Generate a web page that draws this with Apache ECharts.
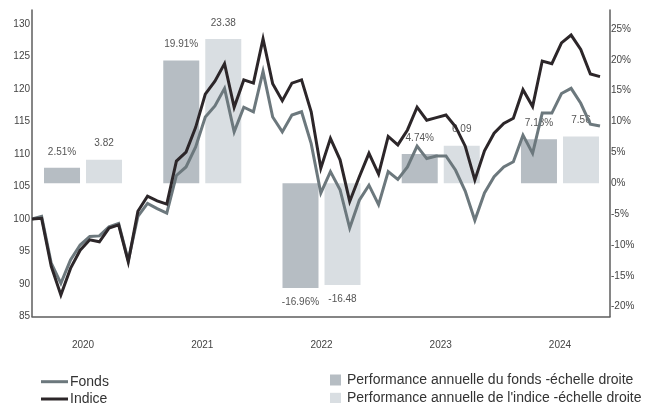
<!DOCTYPE html>
<html>
<head>
<meta charset="utf-8">
<script src="https://cdn.jsdelivr.net/npm/echarts@6/dist/echarts.min.js"></script>
<style>
html,body{margin:0;padding:0;background:#fff;}
#c{width:651px;height:403px;}
</style>
</head>
<body>
<div id="c"></div>
<script>
// ---- data ----
const years = ['2020', '2021', '2022', '2023', '2024'];
const perfFonds = [2.51, 19.91, -16.96, 4.74, 7.13];
const perfIndice = [3.82, 23.38, -16.48, 6.09, 7.56];
const fonds = [100.0,100.4,93.2,90.1,93.7,96.0,97.3,97.4,98.8,99.3,
  93.6,100.4,102.4,101.6,100.9,106.7,108.0,111.1,115.7,117.4,
  120.1,113.4,117.2,116.5,122.7,115.7,113.4,116.0,116.5,111.6,
  104.0,107.3,104.5,98.6,102.9,105.2,102.2,107.3,106.1,108.0,
  111.2,109.3,109.7,109.7,107.5,104.3,99.8,104.0,106.5,108.0,
  108.8,112.9,110.1,116.3,116.3,119.3,120.1,117.8,114.6,114.3];
const indice = [100.0,100.1,92.7,88.3,92.4,95.2,96.8,96.5,98.6,99.1,
  93.4,101.2,103.5,102.8,102.3,108.9,110.3,114.1,119.2,121.2,
  123.9,117.2,121.4,120.9,127.7,120.8,118.2,120.9,121.4,116.5,
  107.8,112.4,109.1,102.7,106.5,110.1,106.9,112.7,111.4,113.7,
  117.2,115.2,115.6,116.0,114.2,111.2,106.0,110.5,113.2,114.7,
  115.5,119.9,117.3,124.3,123.9,127.1,128.3,126.1,122.3,121.9];
const leftTicks = {min: 85, step: 5};
const rightTicks = {min: -20, max: 25, step: 5};
const names = {
  fonds: 'Fonds',
  indice: 'Indice',
  perfFonds: 'Performance annuelle du fonds -échelle droite',
  perfIndice: "Performance annuelle de l'indice -échelle droite"
};

// ---- styles ----
const FONT = "'Liberation Sans', Arial, sans-serif";
const C_FONDS = '#6c787d';
const C_INDICE = '#2c2629';
const C_BAR_F = '#b6bdc3';
const C_BAR_I = '#d9dee2';
const AXIS_C = '#5e5e5e';

function barItems(arr, suffix) {
  return arr.map(v => ({
    value: v,
    label: {
      position: v >= 0 ? 'top' : 'bottom',
      distance: v >= 0 ? 11 : 9,
      formatter: () => v.toFixed(2) + suffix
    }
  }));
}

const chart = echarts.init(document.getElementById('c'), null, {renderer: 'canvas'});
chart.setOption({
  animation: false,
  textStyle: {fontFamily: FONT},
  grid: [
    {left: 32, right: 41, top: 10, height: 306.5, containLabel: false},
    {left: 23.4, right: 31.4, top: 29, height: 277.7, containLabel: false}
  ],
  legend: [
    {
      data: [names.fonds, names.indice],
      orient: 'vertical', left: 41, top: 374.2, height: 60, padding: 0,
      icon: 'rect', itemWidth: 27, itemHeight: 3, itemGap: 2.3,
      textStyle: {fontSize: 14, color: '#333', lineHeight: 15, fontFamily: FONT, padding: [0, 0, 0, -3]}
    },
    {
      data: [names.perfFonds, names.perfIndice],
      orient: 'vertical', left: 330, top: 372.5, height: 60, padding: 0,
      icon: 'rect', itemWidth: 11, itemHeight: 11, itemGap: 3.3,
      textStyle: {fontSize: 14, color: '#333', lineHeight: 15, fontFamily: FONT, padding: [0, 0, 0, 1]}
    }
  ],
  xAxis: [
    {
      gridIndex: 0, type: 'value', min: 0, max: (fonds.length - 1) * 578 / 568,
      axisLine: {show: true, lineStyle: {color: AXIS_C, width: 1.5}},
      axisTick: {show: false}, axisLabel: {show: false}, splitLine: {show: false}
    },
    {
      gridIndex: 1, type: 'category', data: years,
      axisLine: {show: false}, axisTick: {show: false}, splitLine: {show: false},
      axisLabel: {fontSize: 10, color: '#444', margin: 34, fontFamily: FONT}
    }
  ],
  yAxis: [
    {
      gridIndex: 0, type: 'value', position: 'left',
      min: leftTicks.min, max: leftTicks.min + 306.5 / 6.5, interval: leftTicks.step,
      axisLine: {show: true, lineStyle: {color: AXIS_C, width: 1.5}},
      axisTick: {show: false}, splitLine: {show: false},
      axisLabel: {
        fontSize: 10, color: '#444', margin: 2, fontFamily: FONT,
        showMaxLabel: false,
        formatter: v => (Math.abs(v - Math.round(v / 5) * 5) < 1e-6 ? String(Math.round(v)) : '')
      }
    },
    {
      gridIndex: 0, type: 'value', position: 'right', min: 0, max: 1,
      axisLine: {show: true, onZero: false, lineStyle: {color: AXIS_C, width: 1.5}},
      axisTick: {show: false}, axisLabel: {show: false}, splitLine: {show: false}
    },
    {
      gridIndex: 1, type: 'value', position: 'right', offset: -9.6,
      min: rightTicks.min, max: rightTicks.max, interval: rightTicks.step,
      axisLine: {show: false}, axisTick: {show: false}, splitLine: {show: false},
      axisLabel: {fontSize: 10, color: '#444', margin: 1, formatter: '{value}%', fontFamily: FONT}
    }
  ],
  series: [
    {
      name: names.perfFonds, type: 'bar', xAxisIndex: 1, yAxisIndex: 2, z: 1,
      barWidth: 36, barGap: '16.7%',
      itemStyle: {color: C_BAR_F},
      label: {show: true, fontSize: 10, color: '#555', fontFamily: FONT},
      data: barItems(perfFonds, '%')
    },
    {
      name: names.perfIndice, type: 'bar', xAxisIndex: 1, yAxisIndex: 2, z: 1,
      barWidth: 36, barGap: '16.7%',
      itemStyle: {color: C_BAR_I},
      label: {show: true, fontSize: 10, color: '#555', fontFamily: FONT},
      data: barItems(perfIndice, '')
    },
    {
      name: names.fonds, type: 'line', xAxisIndex: 0, yAxisIndex: 0, z: 5,
      symbol: 'none', itemStyle: {color: C_FONDS},
      lineStyle: {color: C_FONDS, width: 3, join: 'miter'},
      data: fonds.map((v, i) => [i, v])
    },
    {
      name: names.indice, type: 'line', xAxisIndex: 0, yAxisIndex: 0, z: 6,
      symbol: 'none', itemStyle: {color: C_INDICE},
      lineStyle: {color: C_INDICE, width: 3, join: 'miter'},
      data: indice.map((v, i) => [i, v])
    }
  ]
});
</script>
</body>
</html>
